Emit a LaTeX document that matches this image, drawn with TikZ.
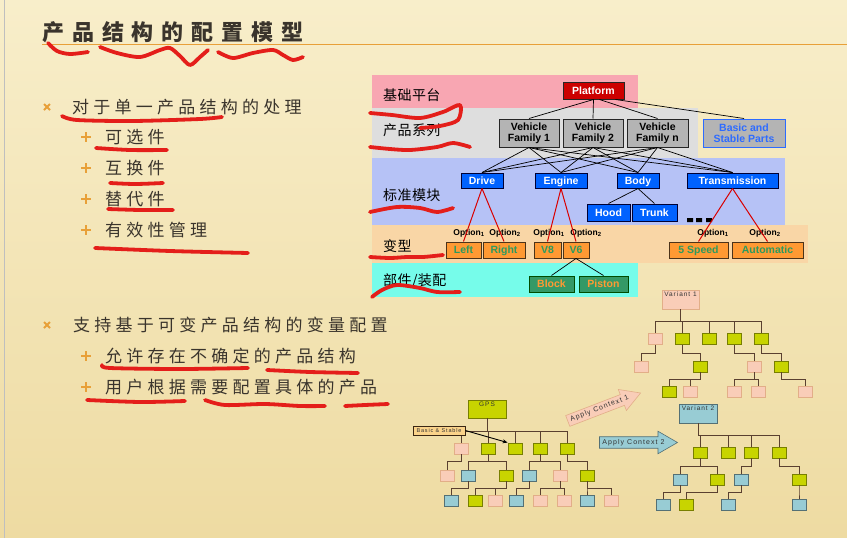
\documentclass[tikz,border=0pt]{standalone}
\usepackage{fontspec}
\setmainfont{Liberation Sans}
\newfontfamily\cjktitle[LetterSpace=36]{Noto Sans CJK SC}
\newfontfamily\cjkbody[LetterSpace=25]{Noto Sans CJK SC}
\newfontfamily\cjkband[LetterSpace=3]{Noto Sans CJK SC}
\newfontfamily\smallsp[LetterSpace=15]{Liberation Sans}
\usetikzlibrary{shapes.arrows,arrows.meta}
\definecolor{bgtop}{HTML}{F8EECA}
\definecolor{bgbot}{HTML}{EEDBA2}
\definecolor{txt}{HTML}{3A342C}
\definecolor{orng}{HTML}{E8A038}
\definecolor{scr}{HTML}{E41E1A}
\definecolor{bpink}{HTML}{F8A6B2}
\definecolor{bgray}{HTML}{DEDEDE}
\definecolor{bblue}{HTML}{B6C2F6}
\definecolor{bpeach}{HTML}{F9D6A6}
\definecolor{bcyan}{HTML}{76FCEA}
\definecolor{platred}{HTML}{CC0000}
\definecolor{vfgray}{HTML}{B4B4B4}
\definecolor{modblue}{HTML}{0062FF}
\definecolor{basicblue}{HTML}{2D6BFF}
\definecolor{optorange}{HTML}{FF9933}
\definecolor{optgreen}{HTML}{2E9A5E}
\definecolor{partgreen}{HTML}{349966}
\definecolor{tpink}{HTML}{F9CDB8}
\definecolor{tgreen}{HTML}{C8D400}
\definecolor{tblue}{HTML}{98CCD4}
\definecolor{tline}{HTML}{5A4030}
\definecolor{bsfill}{HTML}{FAD38A}
\tikzset{
  scrib/.style={draw=scr, line width=3.8pt, line cap=round, line join=round},
  btext/.style={anchor=west, inner sep=0pt, text=txt, font=\cjkbody\fontsize{17}{17}\selectfont},
  bandlbl/.style={anchor=west, inner sep=0pt, text=black, font=\cjkband\fontsize{14}{14}\selectfont},
  dbox/.style={rectangle, draw=black!85, line width=1pt, inner sep=0pt, text height=8.6pt, text depth=1pt,
     font=\bfseries\fontsize{10.5}{11}\selectfont},
  vfbox/.style={dbox, text height=, text depth=, align=center, fill=vfgray, text=black, minimum height=28pt},
  modbox/.style={dbox, fill=modblue, draw=black!80!blue, text=white, minimum height=15pt},
  optbox/.style={dbox, fill=optorange, draw=black!60!brown, text=optgreen, minimum height=16pt},
  partbox/.style={dbox, fill=partgreen, draw=black!70!green, text=optorange, minimum height=16pt},
  optlbl/.style={inner sep=0pt, font=\bfseries\fontsize{8.5}{9}\selectfont, text=black},
  tn/.style={rectangle, line width=0.8pt, minimum width=14pt, minimum height=11pt, inner sep=0pt},
  tp/.style={tn, fill=tpink, draw=tpink!60!brown},
  tg/.style={tn, fill=tgreen, draw=tgreen!60!black},
  tb/.style={tn, fill=tblue, draw=tblue!55!black},
  tl/.style={draw=tline, line width=0.8pt},
  tlbl/.style={anchor=north, inner sep=2pt, text=black!80, font=\smallsp\fontsize{6.5}{6.5}\selectfont},
  conn/.style={draw=black, line width=0.7pt},
  rconn/.style={draw=red!85!black, line width=1pt},
  ctxarrow/.style={single arrow, line width=0.6pt, minimum height=78pt, single arrow head extend=5.5pt,
     single arrow tip angle=60, inner xsep=1.5pt, inner ysep=2.2pt, text=black!80,
     font=\smallsp\fontsize{7}{7}\selectfont},
}
\begin{document}
\begin{tikzpicture}[x=1pt,y=-1pt]
\useasboundingbox (0,0) rectangle (847,538);
% background
\shade[top color=bgtop, bottom color=bgbot] (0,0) rectangle (847,538);
\draw[black!25, line width=0.8pt] (4,0) -- (4,538);
% title
\node[anchor=west, inner sep=0pt, text=txt, font=\cjktitle\bfseries\fontsize{22}{22}\selectfont] (title) at (42,32) {产品结构的配置模型};
\draw[orng, line width=1pt] (42,44.5) -- (847,44.5);
% bullets
\foreach \y in {107,325}{
  \draw[orng, line width=1.8pt] (44,\y-3) -- (50,\y+3) (44,\y+3) -- (50,\y-3);
}
\foreach \y in {137,168,199,230,356,387}{
  \draw[orng, line width=1.3pt] (81,\y) -- (91,\y) (86,\y-5) -- (86,\y+5);
}
\node[btext] (b1) at (72,107) {对于单一产品结构的处理};
\node[btext] (b11) at (105,137) {可选件};
\node[btext] (b12) at (105,168) {互换件};
\node[btext] (b13) at (105,199) {替代件};
\node[btext] (b14) at (105,230) {有效性管理};
\node[btext] (b2) at (73,325) {支持基于可变产品结构的变量配置};
\node[btext] (b21) at (105,356) {允许存在不确定的产品结构};
\node[btext] (b22) at (105,387) {用户根据需要配置具体的产品};
% bands
\fill[bpink] (372,75) rectangle (638,108);
\fill[bgray] (372,108) rectangle (698,158);
\fill[bblue] (372,158) rectangle (785,225);
\fill[bpeach] (372,225) rectangle (808,263);
\fill[bcyan] (372,263) rectangle (638,297);
\node[bandlbl] (l1) at (383,95) {基础平台};
\node[bandlbl] (l2) at (383,130) {产品系列};
\node[bandlbl] (l3) at (383,195) {标准模块};
\node[bandlbl] (l4) at (383,246) {变型};
\node[bandlbl] (l5) at (383,281) {部件/装配};
% diagram nodes
\node[dbox, fill=platred, text=white, minimum width=61pt, minimum height=17pt] (plat) at (593.5,90.5) {Platform};
\node[vfbox, minimum width=60pt] (vf1) at (529,133) {Vehicle\\Family 1};
\node[vfbox, minimum width=60pt] (vf2) at (593,133) {Vehicle\\Family 2};
\node[vfbox, minimum width=61pt] (vfn) at (657.5,133) {Vehicle\\Family n};
\node[vfbox, draw=basicblue, text=basicblue, minimum width=82pt] (basic) at (744,133) {Basic and\\Stable Parts};
\node[modbox, minimum width=42pt] (drive) at (482,180.5) {Drive};
\node[modbox, minimum width=52pt] (engine) at (561,180.5) {Engine};
\node[modbox, minimum width=42pt] (body) at (638,180.5) {Body};
\node[modbox, minimum width=91pt] (trans) at (732.5,180.5) {Transmission};
\node[modbox, minimum width=43pt, minimum height=17pt] (hood) at (608.5,212.5) {Hood};
\node[modbox, minimum width=45pt, minimum height=17pt] (trunk) at (654.5,212.5) {Trunk};
\fill[black] (687,218) rectangle (693,222) (696,218) rectangle (702,222) (706,218) rectangle (712,222);
\node[optbox, minimum width=35pt] (left) at (463.5,250) {Left};
\node[optbox, minimum width=42pt] (right) at (504,250) {Right};
\node[optbox, minimum width=27pt] (v8) at (547.5,250) {V8};
\node[optbox, minimum width=26pt] (v6) at (576,250) {V6};
\node[optbox, minimum width=59pt] (s5) at (698.5,250) {5 Speed};
\node[optbox, minimum width=71pt] (auto) at (767.5,250) {Automatic};
\node[partbox, minimum width=45pt] (block) at (551.5,284) {Block};
\node[partbox, minimum width=49pt] (piston) at (603.5,284) {Piston};
\node[optlbl] (o1) at (469,233) {Option\textsubscript{1}};
\node[optlbl] (o2) at (505,233) {Option\textsubscript{2}};
\node[optlbl] (o3) at (549,233) {Option\textsubscript{1}};
\node[optlbl] (o4) at (586,233) {Option\textsubscript{2}};
\node[optlbl] (o5) at (713,233) {Option\textsubscript{1}};
\node[optlbl] (o6) at (765,233) {Option\textsubscript{2}};
% connectors
\draw[conn] (plat.south) -- (vf1.north);
\draw[conn] (plat.south) -- (vf2.north);
\draw[conn] ([xshift=6pt]plat.south) -- (vfn.north);
\draw[conn] ([xshift=22pt]plat.south) -- (basic.north);
\foreach \f in {vf1,vf2,vfn}{
  \foreach \m in {drive,engine,body,trans}{
    \draw[conn] (\f.south) -- (\m.north);
  }
}
\draw[conn] (body.south) -- (hood.north);
\draw[conn] (body.south) -- (trunk.north);
\draw[rconn] (drive.south) -- (left.north);
\draw[rconn] (drive.south) -- (right.north);
\draw[rconn] (engine.south) -- (v8.north);
\draw[rconn] (engine.south) -- (v6.north);
\draw[rconn] (trans.south) -- (s5.north);
\draw[rconn] (trans.south) -- (auto.north);
\draw[conn] (v6.south) -- (block.north);
\draw[conn] (v6.south) -- (piston.north);
% ---- GPS tree
\node[tg, minimum width=38pt, minimum height=18pt, label={[tlbl]north:GPS}] (g0) at (487,409) {};
\node[tp] (g1a) at (461,448.5) {};
\node[tg] (g1b) at (488,448.5) {};
\node[tg] (g1c) at (515,448.5) {};
\node[tg] (g1d) at (540,448.5) {};
\node[tg] (g1e) at (567,448.5) {};
\node[tp] (g2a) at (447,475.5) {};
\node[tb] (g2b) at (468,475.5) {};
\node[tg] (g2c) at (506,475.5) {};
\node[tb] (g2d) at (529,475.5) {};
\node[tp] (g2e) at (560,475.5) {};
\node[tg] (g2f) at (587,475.5) {};
\node[tb] (g3a) at (451,500.5) {};
\node[tg] (g3b) at (475,500.5) {};
\node[tp] (g3c) at (495,500.5) {};
\node[tb] (g3d) at (516,500.5) {};
\node[tp] (g3e) at (540,500.5) {};
\node[tp] (g3f) at (564,500.5) {};
\node[tb] (g3g) at (587,500.5) {};
\node[tp] (g3h) at (611,500.5) {};
\foreach \c in {g1a,g1b,g1c,g1d,g1e}{\draw[tl] (g0.south) -- ++(0,13) -| (\c.north);}
\foreach \p/\c in {g1a/g2a,g1b/g2b,g1b/g2c,g1d/g2d,g1d/g2e,g1e/g2f}{\draw[tl] (\p.south) -- ++(0,7) -| (\c.north);}
\foreach \p/\c in {g2b/g3a,g2c/g3b,g2c/g3c,g2d/g3d,g2e/g3e,g2e/g3f,g2f/g3g,g2f/g3h}{\draw[tl] (\p.south) -- ++(0,7) -| (\c.north);}
\node[rectangle, fill=bsfill, draw=black!70!brown, line width=0.8pt, minimum width=52pt, minimum height=9pt, inner sep=0pt, text=black!80, font=\smallsp\fontsize{5.5}{5.5}\selectfont] (bs) at (439,430.5) {Basic \& Stable};
\draw[black, line width=0.9pt, -{Stealth[length=5pt,width=4pt]}] (bs.east) -- (g1c.north west);
% ---- Variant 1 tree
\node[tp, minimum width=37pt, minimum height=19pt, label={[tlbl]north:Variant 1}] (v1) at (680.5,299.5) {};
\node[tp] (v1a) at (655,339) {};
\node[tg] (v1b) at (682,339) {};
\node[tg] (v1c) at (709,339) {};
\node[tg] (v1d) at (734,339) {};
\node[tg] (v1e) at (761,339) {};
\node[tp] (v2a) at (641,366.5) {};
\node[tg] (v2b) at (700,366.5) {};
\node[tp] (v2c) at (754,366.5) {};
\node[tg] (v2d) at (781,366.5) {};
\node[tg] (v3a) at (669,391.5) {};
\node[tp] (v3b) at (690,391.5) {};
\node[tp] (v3c) at (734,391.5) {};
\node[tp] (v3d) at (758,391.5) {};
\node[tp] (v3e) at (805,391.5) {};
\foreach \c in {v1a,v1b,v1c,v1d,v1e}{\draw[tl] (v1.south) -- ++(0,12) -| (\c.north);}
\foreach \p/\c in {v1a/v2a,v1b/v2b,v1d/v2c,v1e/v2d}{\draw[tl] (\p.south) -- ++(0,8) -| (\c.north);}
\foreach \p/\c in {v2b/v3a,v2b/v3b,v2c/v3c,v2c/v3d,v2d/v3e}{\draw[tl] (\p.south) -- ++(0,7) -| (\c.north);}
% ---- Variant 2 tree
\node[tb, minimum width=38pt, minimum height=19pt, label={[tlbl]north:Variant 2}] (w0) at (698,413.5) {};
\node[tg] (w1a) at (700,452.5) {};
\node[tg] (w1b) at (728,452.5) {};
\node[tg] (w1c) at (751,452.5) {};
\node[tg] (w1d) at (779,452.5) {};
\node[tb] (w2a) at (680,479.5) {};
\node[tg] (w2b) at (717,479.5) {};
\node[tb] (w2c) at (741,479.5) {};
\node[tg] (w2d) at (799,479.5) {};
\node[tb] (w3a) at (663,504.5) {};
\node[tg] (w3b) at (686,504.5) {};
\node[tb] (w3c) at (728,504.5) {};
\node[tb] (w3d) at (799,504.5) {};
\foreach \c in {w1a,w1b,w1c,w1d}{\draw[tl] (w0.south) -- ++(0,12) -| (\c.north);}
\foreach \p/\c in {w1a/w2a,w1a/w2b,w1c/w2c,w1d/w2d}{\draw[tl] (\p.south) -- ++(0,8) -| (\c.north);}
\foreach \p/\c in {w2a/w3a,w2b/w3b,w2c/w3c,w2d/w3d}{\draw[tl] (\p.south) -- ++(0,7) -| (\c.north);}
% ---- Apply context arrows
\node[ctxarrow, fill=tpink, draw=tpink!60!brown, rotate=21] (ac1) at (599.5,408.75) {Apply Context 1};
\node[ctxarrow, fill=tblue, draw=tblue!55!black] (ac2) at (633.5,442.5) {Apply Context 2};
% ---- red scribbles
\draw[scrib] plot[smooth] coordinates {(48,43) (57,51) (70,54) (88,52)};
\draw[scrib] plot[smooth] coordinates {(100,47) (117,53) (140,57) (160,50) (170,48) (180,56) (190,65) (200,57) (208,50)};
\draw[scrib] plot[smooth] coordinates {(218,52) (233,58) (253,53) (273,50) (283,55) (293,60) (303,57)};
\draw[scrib] plot[smooth] coordinates {(62,116) (77,120) (133,121) (200,119) (222,117)};
\draw[scrib] plot[smooth] coordinates {(96,148) (130,150) (167,150)};
\draw[scrib] plot[smooth] coordinates {(110,183) (135,184) (163,183)};
\draw[scrib] plot[smooth] coordinates {(108,209) (140,210) (173,210)};
\draw[scrib] plot[smooth] coordinates {(95,248) (170,251) (248,253)};
\draw[scrib] plot[smooth] coordinates {(102,365) (110,368) (180,369) (248,368)};
\draw[scrib] plot[smooth] coordinates {(267,370) (310,372) (358,373)};
\draw[scrib] plot[smooth] coordinates {(87,400) (140,402) (185,401)};
\draw[scrib] plot[smooth] coordinates {(205,400) (225,405) (265,404) (300,406) (325,406)};
\draw[scrib] plot[smooth] coordinates {(345,406) (365,405) (388,404)};
\draw[scrib] plot[smooth] coordinates {(370,113) (392,115) (420,118) (443,112) (460,105) (458,120) (440,126) (420,128)};
\draw[scrib] plot[smooth] coordinates {(370,147) (390,149) (410,150) (437,147) (453,143) (470,147)};
\draw[scrib] plot[smooth] coordinates {(370,212) (397,207) (420,208) (437,212) (453,208)};
\draw[scrib] plot[smooth] coordinates {(370,257) (390,258) (407,257) (423,257) (443,255)};
\draw[scrib] plot[smooth] coordinates {(372,297) (382,290) (397,285) (420,288) (437,292) (460,292)};
\end{tikzpicture}
\end{document}
